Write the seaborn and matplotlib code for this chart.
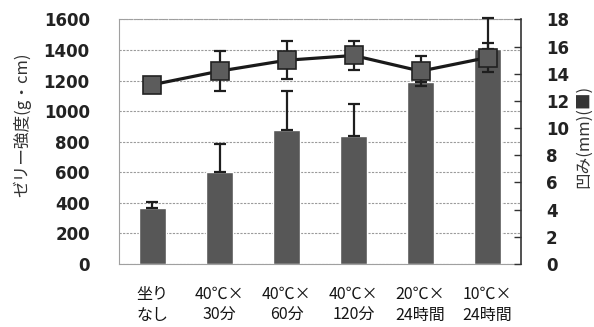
import numpy as np
import pandas as pd
import matplotlib
matplotlib.use("Agg")
import matplotlib.pyplot as plt
import seaborn as sns

# Treatment conditions (x categories)
conditions = ["坐り\nなし", "40℃×\n30分", "40℃×\n60分", "40℃×\n120分", "20℃×\n24時間", "10℃×\n24時間"]
# Jelly strength (g·cm), bars, with upper error
strength = [365, 605, 880, 835, 1190, 1410]
strength_err = [40, 180, 250, 215, 40, 200]
# Dent depth (mm), squares on secondary axis, with error
dent = [13.2, 14.2, 15.0, 15.35, 14.2, 15.2]
dent_err = [0.2, 1.5, 1.4, 1.1, 1.1, 1.05]

left_ticks = [0, 200, 400, 600, 800, 1000, 1200, 1400, 1600]
right_ticks = [0, 2, 4, 6, 8, 10, 12, 14, 16, 18]

sns.set_theme(style="white")
plt.rcParams["font.family"] = ["Noto Sans CJK JP", "DejaVu Sans"]

df = pd.DataFrame({"condition": conditions, "strength": strength})

fig = plt.figure(figsize=(5.94, 3.27), dpi=100)
ax = fig.add_axes([0.2003, 0.1927, 0.677, 0.7477])

bar_color = "#575757"
sns.barplot(data=df, x="condition", y="strength", color=bar_color, width=0.4,
            errorbar=None, saturation=1, ax=ax, zorder=2)
xpos = np.arange(len(conditions))
ax.errorbar(xpos, strength, yerr=[np.zeros(len(strength)), strength_err], fmt="none",
            ecolor="#1e1e1e", elinewidth=1.6, capsize=4, capthick=1.6, zorder=3, clip_on=False)

ax.set_ylim(0, 1600)
ax.set_xlim(-0.5, len(conditions) - 0.5)
ax.set_yticks(left_ticks)
ax.set_yticklabels([str(t) for t in left_ticks], fontfamily="DejaVu Sans",
                   fontweight="bold", fontsize=12, color="#222222")
ax.tick_params(axis="y", length=0, pad=21)
ax.tick_params(axis="x", length=0, pad=16)
ax.set_xticks(xpos)
ax.set_xticklabels(conditions, fontsize=11.5, color="#151515", linespacing=1.3)
ax.set_xlabel("")
ax.grid(axis="y", color="#9a9a9a", linestyle=(0, (2, 1.2)), linewidth=0.8, zorder=0)
ax.set_axisbelow(True)
for side in ["left", "top", "bottom"]:
    ax.spines[side].set_color("#a0a0a0")
    ax.spines[side].set_linewidth(0.8)
ax.spines["top"].set_linestyle((0, (3, 1.5)))
ax.spines["left"].set_linestyle((0, (1.5, 1)))
ax.spines["right"].set_visible(False)

ax.set_ylabel("ゼリー強度(g・cm)", fontsize=12, color="#333333")
ax.yaxis.set_label_coords(-0.218, 0.57)

# Secondary axis: dent depth
ax2 = ax.twinx()
ax2.errorbar(xpos, dent, yerr=dent_err, fmt="none", ecolor="#1e1e1e",
             elinewidth=1.6, capsize=4.5, capthick=1.6, zorder=1)
sns.lineplot(x=xpos, y=dent, ax=ax2, color="#1a1a1a", linewidth=2.3, marker="s",
             markersize=13.5, markerfacecolor="#5c5c5c", markeredgecolor="#222222",
             markeredgewidth=1.2, zorder=2)
ax2.set_ylim(0, 18)
ax2.set_yticks(right_ticks)
ax2.set_yticklabels([str(t) for t in right_ticks], fontfamily="DejaVu Sans",
                    fontweight="bold", fontsize=12, color="#222222")
ax2.tick_params(axis="y", direction="in", length=5, width=1, color="#333333", pad=18, right=True)
ax2.grid(False)
for side in ["left", "top", "bottom"]:
    ax2.spines[side].set_visible(False)
ax2.spines["right"].set_color("#333333")
ax2.spines["right"].set_linewidth(1.2)
ax2.set_ylabel("凹み(mm)(■)", fontsize=12, color="#333333")
ax2.yaxis.set_label_coords(1.135, 0.52)

fig.savefig("out.png", dpi=100)
